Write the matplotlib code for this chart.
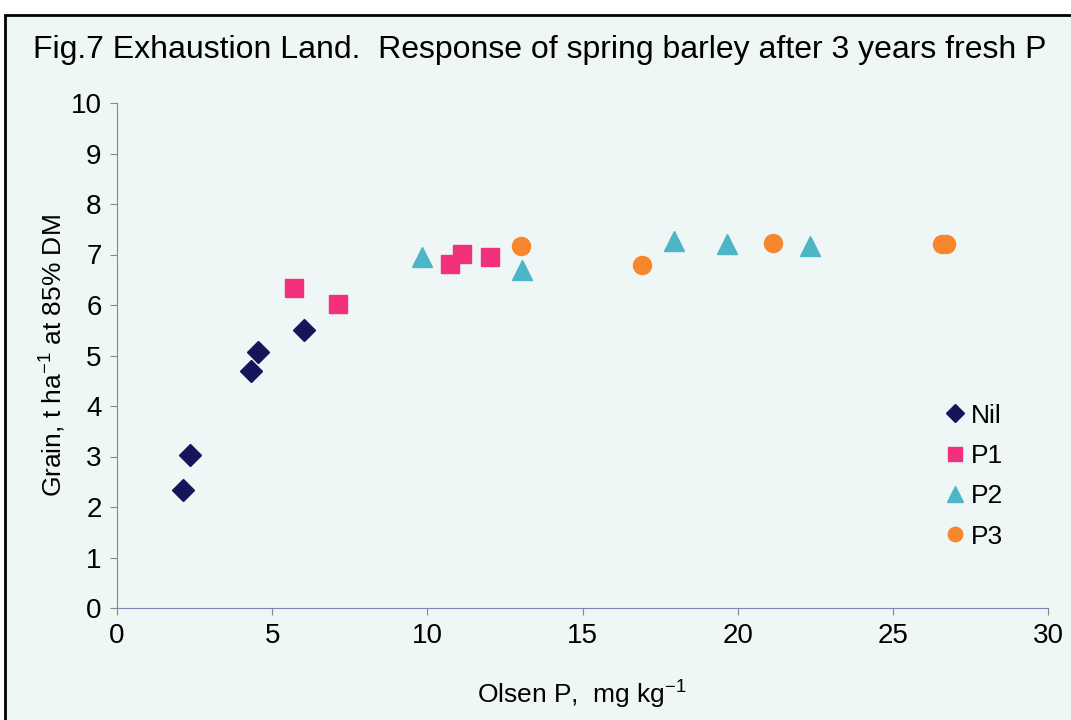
import matplotlib.pyplot as plt
from matplotlib.patches import Rectangle

plt.rcParams['font.family'] = ['Liberation Sans', 'DejaVu Sans']

# data
nil_x = [2.13, 2.35, 4.32, 4.54, 6.03]
nil_y = [2.34, 3.03, 4.69, 5.07, 5.50]
p1_x = [5.70, 7.12, 10.73, 11.12, 12.02]
p1_y = [6.34, 6.02, 6.81, 7.01, 6.95]
p2_x = [9.83, 13.05, 17.95, 19.66, 22.33]
p2_y = [6.95, 6.70, 7.26, 7.20, 7.16]
p3_x = [13.02, 16.92, 21.14, 26.59, 26.71]
p3_y = [7.17, 6.79, 7.23, 7.21, 7.21]

bg = '#eef6f6'
fig = plt.figure(figsize=(10.71, 7.2), dpi=100)
fig.patch.set_facecolor('white')
# chart area with black frame (right/bottom edges run off the scan)
fig.patches.append(Rectangle((5 / 1071, -0.01), 1.02, 1 - 15 / 720 + 0.01,
                             transform=fig.transFigure, facecolor=bg,
                             edgecolor='black', linewidth=2, zorder=-10))

ax = fig.add_axes([117 / 1071, 1 - 608 / 720, 931 / 1071, 505 / 720])
ax.set_facecolor('none')

ax.plot(nil_x, nil_y, 'D', color='#15155a', ms=11, ls='none', label='Nil')
ax.plot(p1_x, p1_y, 's', color='#f2307c', ms=13, ls='none', label='P1')
ax.plot(p2_x, p2_y, '^', color='#4cb6c6', ms=14, ls='none', label='P2')
ax.plot(p3_x, p3_y, 'o', color='#f7862c', ms=13, ls='none', label='P3',
        markeredgecolor='#f7862c')

ax.set_xlim(0, 30)
ax.set_ylim(0, 10)
ax.set_xticks(range(0, 31, 5))
ax.set_yticks(range(0, 11))
for s in ['top', 'right']:
    ax.spines[s].set_visible(False)
ax.spines['left'].set_color('#888888')
ax.spines['bottom'].set_color('#7a86b0')
ax.tick_params(direction='out', length=5, color='#888888', labelsize=20, pad=6)

ax.set_xlabel(r'Olsen P,  mg kg$^{\mathregular{-1}}$', fontsize=19, labelpad=20)
ax.set_ylabel(r'Grain, t ha$^{\mathregular{-1}}$ at 85% DM', fontsize=19, labelpad=3)

fig.text(33 / 1071, 1 - 50 / 720, 'Fig.7 Exhaustion Land.  Response of spring barley after 3 years fresh P',
         fontsize=23, va='center', ha='left')

ax.legend(loc='upper left', bbox_to_anchor=(0.877, 0.431), frameon=False, fontsize=19,
          handlelength=0.6, handletextpad=0.3, labelspacing=0.62, borderpad=0,
          markerscale=0.8)

fig.savefig('out.png', dpi=100)
